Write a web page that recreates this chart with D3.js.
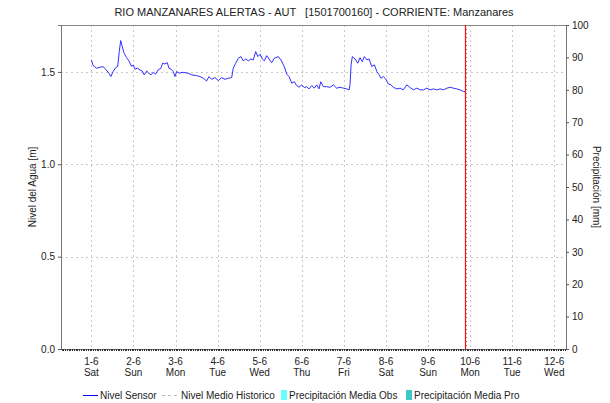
<!DOCTYPE html>
<html>
<head>
<meta charset="utf-8">
<script src="https://cdn.jsdelivr.net/npm/d3@7"></script>
<style>
  body { margin: 0; background: #fff; }
  svg { font-family: "Liberation Sans", Arial, sans-serif; }
</style>
</head>
<body>
<div id="chart"></div>
<script>
// chart data (hours from 1-6-2024 00:00, level in m)
var sensorHours = [0, 1, 3, 4.9, 6.6, 8.1, 10, 11.1, 12.4, 14, 15, 15.9, 16.7, 17.6, 18.7, 20.1, 21.4, 22.9, 23.9,
  24.8, 26.4, 27.7, 29, 30.1, 31.5, 32.8, 34, 35.3, 36.6, 38.1, 39.7, 40.6, 41.9, 43.3, 44.2, 45.4, 46.7, 47.7,
  48.6, 50.1, 51.8, 53.4, 55.2, 57.2, 60, 61.9, 63.8, 65.7, 67.1, 68.6, 70.5,
  72.4, 74.3, 76.2, 78.1, 80, 80.9, 82.3, 83.8, 85.3, 86.6, 88, 89.5, 91, 92.3, 93.7, 94.9,
  96.2, 97.5, 98.6, 100, 101.3, 102.8, 104.3, 106.6, 108.1, 110, 111.4, 112.7, 114.3, 115.7, 117.1, 118.4,
  120, 121.4, 122.8, 124.1, 125.7, 127.1, 128.5, 129.8, 130.8, 132.3, 134.2, 136.1, 138, 139.9, 141.8,
  143.7, 145.6, 147, 147.5, 148.1, 148.8, 150.4, 151.9, 153.2, 154.5, 155.7, 157.1, 158.4, 159.9, 161.4,
  162.8, 164.1, 165.2, 166.5, 167.9, 169.4, 170.9, 172.2, 174.2, 176.1, 177.9, 179.9, 181.8, 183.7, 185.6,
  187.5, 189.4, 191.3, 193.2, 195.1, 197, 198.9, 200.8, 202.7, 204.6, 206.5, 208.4, 210.3, 212.2, 213.2];
var sensorLevel = [1.565, 1.534, 1.52, 1.525, 1.529, 1.515, 1.493, 1.475, 1.502, 1.525, 1.53, 1.61, 1.67, 1.637, 1.6, 1.577, 1.56, 1.53, 1.538,
  1.515, 1.52, 1.511, 1.505, 1.484, 1.505, 1.493, 1.484, 1.498, 1.488, 1.511, 1.52, 1.547, 1.543, 1.55, 1.52, 1.515, 1.502, 1.475,
  1.502, 1.493, 1.498, 1.496, 1.493, 1.484, 1.48, 1.475, 1.466, 1.451, 1.475, 1.46, 1.469,
  1.453, 1.469, 1.46, 1.466, 1.469, 1.52, 1.547, 1.574, 1.583, 1.56, 1.57, 1.56, 1.57, 1.565, 1.61, 1.583,
  1.596, 1.57, 1.56, 1.588, 1.57, 1.55, 1.574, 1.583, 1.565, 1.529, 1.488, 1.475, 1.439, 1.447, 1.426, 1.417,
  1.43, 1.415, 1.42, 1.408, 1.426, 1.412, 1.43, 1.408, 1.447, 1.42, 1.42, 1.417, 1.43, 1.412, 1.417,
  1.412, 1.408, 1.403, 1.43, 1.538, 1.583, 1.57, 1.547, 1.577, 1.556, 1.583, 1.565, 1.57, 1.529, 1.538,
  1.502, 1.484, 1.466, 1.475, 1.462, 1.434, 1.43, 1.417, 1.408, 1.412, 1.403, 1.43, 1.415, 1.403, 1.412,
  1.403, 1.403, 1.412, 1.403, 1.408, 1.403, 1.408, 1.403, 1.412, 1.417, 1.412, 1.408, 1.403, 1.394, 1.392];
var levelTicks = [0, 0.5, 1.0, 1.5];
var rainTicks = [0, 10, 20, 30, 40, 50, 60, 70, 80, 90, 100];
var dayNames = ["Sun", "Mon", "Tue", "Wed", "Thu", "Fri", "Sat"];
var legendNames = ["Nivel Sensor", "Nivel Medio Historico", "Precipitación Media Obs", "Precipitación Media Pro"];
var titleText = "RIO MANZANARES ALERTAS - AUT   [1501700160] - CORRIENTE: Manzanares";

var origin = new Date(2024, 5, 1, 0, 0);
var startTime = new Date(2024, 4, 31, 6, 40);
var endTime = new Date(2024, 5, 12, 6, 40);
var nowTime = new Date(2024, 5, 9, 21, 20);

// set the dimensions and margins of the graph
var margin = {top: 25, right: 44, bottom: 54, left: 61},
  width = 610 - margin.left - margin.right,
  height = 403 - margin.top - margin.bottom;

var x = d3.scaleTime().domain([startTime, endTime]).range([0, width]);
var y = d3.scaleLinear().domain([0, 1.754]).range([height, 0]);
var y2 = d3.scaleLinear().domain([0, 100]).range([height, 0]);

var data = sensorHours.map(function(h, i) {
  return {date: d3.timeMinute.offset(origin, Math.round(h * 60)), level: sensorLevel[i]};
});

var svg = d3.select("#chart").append("svg")
  .attr("width", 610)
  .attr("height", 403);

svg.append("text")
  .attr("x", 314)
  .attr("y", 16)
  .attr("text-anchor", "middle")
  .style("font-size", "11px")
  .attr("fill", "#222")
  .style("white-space", "pre")
  .text(titleText);

var g = svg.append("g")
  .attr("transform", "translate(" + margin.left + "," + margin.top + ")");

// grid
var days = d3.timeDay.range(d3.timeDay.ceil(startTime), endTime);
g.selectAll(".vgrid").data(days).enter().append("line")
  .attr("x1", function(d) { return Math.round(x(d)) + 0.5; })
  .attr("x2", function(d) { return Math.round(x(d)) + 0.5; })
  .attr("y1", 0).attr("y2", height)
  .attr("stroke", "#c8c8c8").attr("stroke-dasharray", "2,3");

g.selectAll(".hgrid").data(levelTicks.slice(1)).enter().append("line")
  .attr("x1", 0).attr("x2", width)
  .attr("y1", function(d) { return Math.round(y(d)) + 0.5; })
  .attr("y2", function(d) { return Math.round(y(d)) + 0.5; })
  .attr("stroke", "#c8c8c8").attr("stroke-dasharray", "2,3");

// frame
g.append("line").attr("x1", 0).attr("x2", width).attr("y1", 0.5).attr("y2", 0.5).attr("stroke", "#888");

// left axis
var yAxis = g.append("g")
  .call(d3.axisLeft(y).tickValues(levelTicks).tickFormat(d3.format(".1f")).tickSize(3).tickPadding(3));
yAxis.select(".domain").attr("stroke", "#777");
yAxis.selectAll(".tick line").attr("stroke", "#555");
yAxis.selectAll("text").style("font-size", "10px").attr("fill", "#222");

// right axis
var rAxis = g.append("g")
  .attr("transform", "translate(" + width + ",0)")
  .call(d3.axisRight(y2).tickValues(rainTicks).tickSize(3).tickPadding(3));
rAxis.select(".domain").attr("stroke", "#777");
rAxis.selectAll(".tick line").attr("stroke", "#555");
rAxis.selectAll("text").style("font-size", "10px").attr("fill", "#222");

// bottom axis with hourly minor ticks
var hours = d3.timeHour.range(startTime, endTime);
g.append("line").attr("x1", 0).attr("x2", width).attr("y1", height + 0.5).attr("y2", height + 0.5).attr("stroke", "#777");
g.selectAll(".minor").data(hours).enter().append("line")
  .attr("x1", function(d) { return Math.round(x(d)) + 0.5; })
  .attr("x2", function(d) { return Math.round(x(d)) + 0.5; })
  .attr("y1", height).attr("y2", height + 2)
  .attr("stroke", "#333");

var xlab = g.selectAll(".xlab").data(days).enter().append("text")
  .attr("x", function(d) { return x(d); })
  .attr("text-anchor", "middle")
  .style("font-size", "10px")
  .attr("fill", "#222");
xlab.append("tspan").attr("x", function(d) { return x(d); }).attr("y", height + 16)
  .text(function(d) { return d.getDate() + "-" + (d.getMonth() + 1); });
xlab.append("tspan").attr("x", function(d) { return x(d); }).attr("y", height + 27)
  .text(function(d) { return dayNames[d.getDay()]; });

// axis titles
svg.append("text")
  .attr("transform", "translate(36," + (margin.top + height / 2) + ") rotate(-90)")
  .attr("text-anchor", "middle")
  .style("font-size", "10px")
  .attr("fill", "#222")
  .text("Nivel del Agua [m]");
svg.append("text")
  .attr("transform", "translate(593," + (margin.top + height / 2) + ") rotate(90)")
  .attr("text-anchor", "middle")
  .style("font-size", "10px")
  .attr("fill", "#222")
  .text("Precipitación [mm]");

// sensor line
var valueline = d3.line()
  .x(function(d) { return x(d.date); })
  .y(function(d) { return y(d.level); });
g.append("path")
  .datum(data)
  .attr("fill", "none")
  .attr("stroke", "#3030ff")
  .attr("stroke-width", 1)
  .attr("d", valueline);

// current time marker
var nx = Math.round(x(nowTime));
g.append("line").attr("x1", nx + 1.5).attr("x2", nx + 1.5).attr("y1", 0).attr("y2", height)
  .attr("stroke", "#b07070").attr("stroke-dasharray", "1,3");
g.append("line").attr("x1", nx + 0.5).attr("x2", nx + 0.5).attr("y1", 0).attr("y2", height)
  .attr("stroke", "#ff1010").attr("stroke-width", 1.2);

// legend
var leg = svg.append("g").attr("transform", "translate(0,395)");
leg.append("line").attr("x1", 83).attr("x2", 98).attr("y1", 0.5).attr("y2", 0.5).attr("stroke", "#0000ff");
leg.append("text").attr("x", 100).attr("y", 4).text(legendNames[0]);
leg.append("line").attr("x1", 162).attr("x2", 177).attr("y1", 0.5).attr("y2", 0.5)
  .attr("stroke", "#bbb").attr("stroke-dasharray", "3,3");
leg.append("text").attr("x", 181).attr("y", 4).text(legendNames[1]);
leg.append("rect").attr("x", 281).attr("y", -5).attr("width", 6).attr("height", 10).attr("fill", "#66ffff");
leg.append("text").attr("x", 289).attr("y", 4).text(legendNames[2]);
leg.append("rect").attr("x", 406).attr("y", -5).attr("width", 6).attr("height", 10).attr("fill", "#40c8c8");
leg.append("text").attr("x", 414).attr("y", 4).text(legendNames[3]);
leg.selectAll("text").style("font-size", "10px").attr("fill", "#222");
</script>
</body>
</html>
